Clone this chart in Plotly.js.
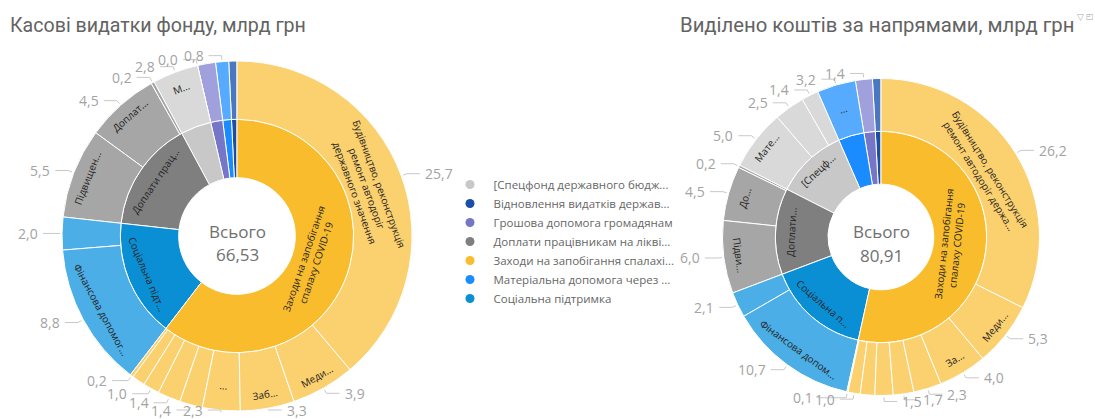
<!DOCTYPE html>
<html><head><meta charset="utf-8">
<script src="https://cdn.plot.ly/plotly-3.0.1.min.js"></script>
<style>html,body{margin:0;padding:0;background:#fff;} #chart{width:1095px;height:419px;}</style>
</head><body><div id="chart"></div>
<script>
// ---------- DATA ----------
const CATEGORIES = [
  'Заходи на запобігання спалаху COVID-19',
  'Соціальна підтримка',
  'Доплати працівникам на ліквідацію COVID-19',
  '[Спецфонд державного бюджету]',
  'Грошова допомога громадянам',
  'Матеріальна допомога через ...',
  'Відновлення видатків державного бюджету'
];
const CAT_COLORS       = ['#F8BC2C','#0A8FD4','#7F7F7F','#C8C8C8','#7676C9','#1A8CFF','#1B4EA6'];
const CAT_COLORS_OUTER = ['#FBD06E','#4BAEE6','#A6A6A6','#D9D9D9','#A0A0DC','#57ABFF','#4A77C2'];

const LEGEND_CATS = [3,6,4,2,0,5,1];
const LEGEND_TEXT = ['[Спецфонд державного бюдж...','Відновлення видатків держав...','Грошова допомога громадянам','Доплати працівникам на ліквi...','Заходи на запобігання спалахі...','Матеріальна допомога через ...','Соціальна підтримка'];

const CENTER_LABEL = 'Всього';

// Left: "Касові видатки фонду"
const LEFT_TITLE = 'Касові видатки фонду, млрд грн';
const LEFT_TOTAL = '66,53';
const LEFT_CAT_ORDER = [0,1,2,3,4,5,6];
const LEFT_INNER_TEXT = ['Заходи на запобігання<br>спалаху COVID-19','Соціальна підт...','Доплати прац...','','','',''];
const LEFT_LEAF_CAT   = [0,0,0,0,0,0,0,0,0, 1,1, 2,2,2, 3,3, 4, 5, 6];
const LEFT_LEAF_VALUE = [25.7,3.9,3.3,2.3,1.4,1.4,1.0,0.8,0.2, 8.8,2.0, 5.5,4.5,0.2, 2.8,0.0, 1.1, 0.8, 0.5];
const LEFT_LEAF_TEXT  = ['Будівництво, реконструкція<br>ремонт автодоріг<br>державного значення','Меди...','Заб...','...','','','','','',
                         'Фінансова допомог...','', 'Підвищен...','Доплат...','', 'М...','', '', '', ''];
const LEFT_LEAF_LABELED = [1,1,1,1,1,1,1,0,1, 1,1, 1,1,1, 1,1, 0, 1, 0];

// Right: "Виділено коштів за напрямами"
const RIGHT_TITLE = 'Виділено коштів за напрямами, млрд грн';
const RIGHT_TOTAL = '80,91';
const RIGHT_CAT_ORDER = [0,1,2,3,5,4,6];
const RIGHT_INNER_TEXT = ['Заходи на запобігання<br>спалаху COVID-19','Соціальна п...','Доплати...','[Спецф...','','',''];
const RIGHT_LEAF_CAT   = [0,0,0,0,0,0,0,0,0, 1,1, 2,2,2, 3,3,3, 5, 4, 6];
const RIGHT_LEAF_VALUE = [26.2,5.3,4.0,2.3,1.7,1.5,1.2,1.0,0.1, 10.7,2.1, 6.0,4.5,0.2, 5.0,2.5,1.4, 3.2, 1.4, 0.7];
const RIGHT_LEAF_TEXT  = ['Будівництво, реконструкція<br>ремонт автодоріг держа...','Меди...','За...','','','','','','',
                          'Фінансова допом...','', 'Підви...','До...','', 'Мате...','','', '...', '', ''];
const RIGHT_LEAF_LABELED = [1,1,1,1,1,1,0,1,1, 1,1, 1,1,1, 1,1,1, 1, 1, 0];

// ---------- LAYOUT CONSTANTS ----------
const W = 1095, H = 419;
const LEFT_DOMAIN  = {x:[62/W, 412/W], y:[8/H, 358/H]};
const RIGHT_DOMAIN = {x:[722.5/W, 1039.5/W], y:[23.5/H, 340.5/H]};
const FONT = 'Open Sans, Noto Sans, sans-serif';

function fmt(v){ return v.toFixed(1).replace('.', ','); }
function geom(domain){
  return {
    cx:(domain.x[0]+domain.x[1])/2*W,
    cy:(1-(domain.y[0]+domain.y[1])/2)*H,
    R:Math.min((domain.x[1]-domain.x[0])*W, (domain.y[1]-domain.y[0])*H)/2
  };
}

function buildSunburst(catOrder, innerText, leafCat, leafValue, leafText, domain){
  const ids=['root'], labels=[CENTER_LABEL], parents=[''], values=[0],
        text=[''], colors=['#ffffff'];
  catOrder.slice().reverse().forEach(ci=>{
    ids.push('c'+ci); labels.push(CATEGORIES[ci]); parents.push('root'); values.push(0);
    text.push(innerText[ci]); colors.push(CAT_COLORS[ci]);
  });
  // leaves reversed so that Plotly's counterclockwise order becomes clockwise-descending
  const order = [];
  catOrder.forEach(ci=>{ leafCat.forEach((c,i)=>{ if(c===ci) order.push(i); }); });
  order.slice().reverse().forEach(i=>{
    ids.push('l'+i); labels.push(leafText[i] ? leafText[i].replace(/<br>/g,' ') : CATEGORIES[leafCat[i]]);
    parents.push('c'+leafCat[i]); values.push(leafValue[i]);
    text.push(leafText[i]); colors.push(CAT_COLORS_OUTER[leafCat[i]]);
  });
  return {
    type:'sunburst', ids, labels, parents, values, text,
    branchvalues:'remainder', sort:false, rotation:90,
    textinfo:'text', insidetextorientation:'tangential',
    textfont:{family:FONT, size:10, color:'#252423'},
    marker:{colors, line:{color:'#ffffff', width:1}},
    leaf:{opacity:1},
    hoverinfo:'label+value',
    domain
  };
}

function centerAnnotations(total, domain){
  const g = geom(domain);
  return [
    {xref:'paper', yref:'paper', x:g.cx/W, y:1-(g.cy-5)/H, xanchor:'center', yanchor:'middle', showarrow:false,
     text:CENTER_LABEL, font:{family:FONT, size:17, color:'#707070'}},
    {xref:'paper', yref:'paper', x:g.cx/W, y:1-(g.cy+18)/H, xanchor:'center', yanchor:'middle', showarrow:false,
     text:total, font:{family:FONT, size:17, color:'#707070'}}
  ];
}

function textWidth(t){ let w=0; for(const ch of t) w += (ch===','?3.8:8.0); return w; }

function valueLabels(catOrder, leafCat, leafValue, labeled, domain){
  const g = geom(domain);
  const tot = leafValue.reduce((a,b)=>a+b,0);
  const anns = [], shapes = [], placed = [];
  let cum = 0;
  catOrder.forEach(ci=>{
    leafCat.forEach((c,i)=>{
      if(c!==ci) return;
      const v = leafValue[i];
      const th = (cum + v/2)/tot*2*Math.PI;
      cum += v;
      if(!labeled[i]) return;
      const s = Math.sin(th), co = -Math.cos(th);
      const txt = fmt(v), w = textWidth(txt), h = 15;
      const right = s >= 0;
      const x1 = g.cx + (g.R+2)*s, y1 = g.cy + (g.R+2)*co;
      const x2 = g.cx + (g.R+6)*s;
      let ty = Math.min(g.cy + (g.R+6)*co, H-9);
      let tx = x2 + (right ? 16 : -16);
      const box = ()=> right ? [tx, tx+w] : [tx-w, tx];
      const hit = ()=> placed.some(p=>{ const b=box(); return b[0] < p.b[1] && p.b[0] < b[1] && Math.abs(ty-p.y) < h; });
      let guard = 0;
      while(hit() && guard++ < 60){
        if(Math.abs(co) > 0.75) tx += right ? 3 : -3;
        else ty += co > 0 ? 2 : -2;
      }
      placed.push({b:box(), y:ty});
      const ex = tx + (right ? -3 : 3);
      const P = (x,y)=> (x/W).toFixed(5)+' '+(1-y/H).toFixed(5);
      shapes.push({type:'path', xref:'paper', yref:'paper',
        path:'M '+P(x1,y1)+' L '+P(x2,ty)+' L '+P(ex,ty),
        line:{color:'#c8c8c8', width:1}});
      anns.push({xref:'paper', yref:'paper', x:tx/W, y:1-ty/H,
        xanchor: right ? 'left' : 'right', yanchor:'middle', showarrow:false,
        text:txt, font:{family:FONT, size:14, color:'#a3a3a3'}});
    });
  });
  return {anns, shapes};
}

const traces = [
  buildSunburst(LEFT_CAT_ORDER, LEFT_INNER_TEXT, LEFT_LEAF_CAT, LEFT_LEAF_VALUE, LEFT_LEAF_TEXT, LEFT_DOMAIN),
  buildSunburst(RIGHT_CAT_ORDER, RIGHT_INNER_TEXT, RIGHT_LEAF_CAT, RIGHT_LEAF_VALUE, RIGHT_LEAF_TEXT, RIGHT_DOMAIN)
];
LEGEND_CATS.forEach((ci,k)=>{
  traces.push({type:'scatter', mode:'markers', x:[null], y:[null], name:LEGEND_TEXT[k],
    marker:{color:CAT_COLORS[ci], size:9}, showlegend:true, hoverinfo:'skip'});
});

const leftLabels  = valueLabels(LEFT_CAT_ORDER, LEFT_LEAF_CAT, LEFT_LEAF_VALUE, LEFT_LEAF_LABELED, LEFT_DOMAIN);
const rightLabels = valueLabels(RIGHT_CAT_ORDER, RIGHT_LEAF_CAT, RIGHT_LEAF_VALUE, RIGHT_LEAF_LABELED, RIGHT_DOMAIN);

const annotations = [
  {xref:'paper', yref:'paper', x:8/W, y:1-25/H, xanchor:'left', yanchor:'middle', showarrow:false,
   text:LEFT_TITLE, font:{family:'Roboto, sans-serif', size:19.6, color:'#636363'}},
  {xref:'paper', yref:'paper', x:678/W, y:1-25/H, xanchor:'left', yanchor:'middle', showarrow:false,
   text:RIGHT_TITLE, font:{family:'Roboto, sans-serif', size:20.3, color:'#636363'}},
  {xref:'paper', yref:'paper', x:1080/W, y:1-17/H, xanchor:'center', yanchor:'middle', showarrow:false,
   text:'▽', font:{family:'DejaVu Sans', size:9, color:'#aaaaaa'}},
  {xref:'paper', yref:'paper', x:1090/W, y:1-17/H, xanchor:'center', yanchor:'middle', showarrow:false,
   text:'◰', font:{family:'DejaVu Sans', size:8, color:'#aaaaaa'}}
].concat(
  centerAnnotations(LEFT_TOTAL, LEFT_DOMAIN),
  centerAnnotations(RIGHT_TOTAL, RIGHT_DOMAIN),
  leftLabels.anns, rightLabels.anns
);

const layout = {
  width:W, height:H, margin:{l:0,r:0,t:0,b:0},
  paper_bgcolor:'#ffffff', plot_bgcolor:'#ffffff',
  showlegend:true,
  legend:{x:446.5/W, xanchor:'left', y:1-170/H, yanchor:'top', bgcolor:'rgba(0,0,0,0)',
    itemwidth:37, font:{family:FONT, size:11.5, color:'#666666'}, tracegroupgap:0},
  xaxis:{visible:false}, yaxis:{visible:false},
  annotations,
  shapes: leftLabels.shapes.concat(rightLabels.shapes)
};
Plotly.newPlot('chart', traces, layout, {displayModeBar:false, staticPlot:true});
</script>
</body></html>
